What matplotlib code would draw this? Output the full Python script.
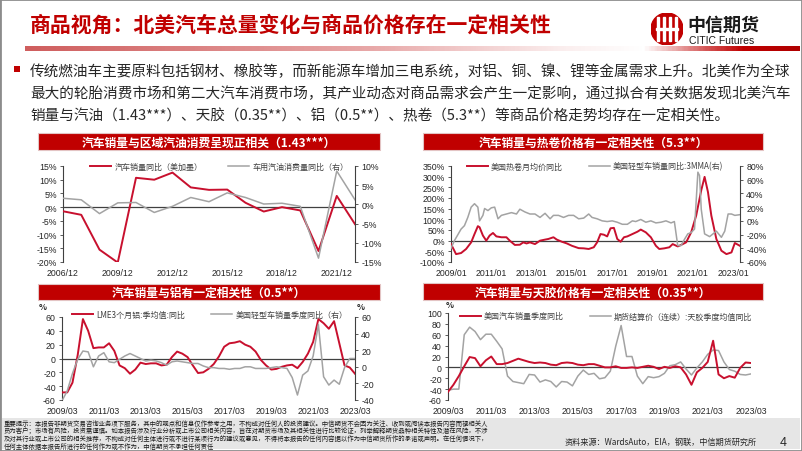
import numpy as np
import matplotlib
matplotlib.use("Agg")
import matplotlib.pyplot as plt
from matplotlib.patches import Rectangle, Circle
from matplotlib.lines import Line2D
from matplotlib.colors import LinearSegmentedColormap

plt.rcParams['font.family'] = ['Noto Sans CJK SC', 'DejaVu Sans']
plt.rcParams['axes.unicode_minus'] = False

W, H = 802, 452
RED = '#C8102E'
GRAY = '#A3A3A3'
DARK = '#404040'
BANNER = '#C00000'
NUM_FONT = ['Liberation Sans', 'DejaVu Sans']

# ---------------- data ----------------
# chart 1: annual, 2006/12 - 2022/12
c1_years = list(range(2006, 2023))
c1_sales = [-1.5, -2.8, -15.5, -20.2, 10.7, 10.0, 12.6, 7.2, 6.3, 6.4, 1.6, -1.6, 0.0, -1.2, -16.0, 4.1, -6.2]
c1_gas = [1.6, 1.2, -2.4, 0.4, 0.5, -2.1, -0.5, 1.8, 0.7, 3.0, 1.8, 0.1, 0.3, -0.5, -14.0, 8.7, 1.2]
c1_ticks = [2006, 2009, 2012, 2015, 2018, 2021]
c1_ticklabels = ['2006/12', '2009/12', '2012/12', '2015/12', '2018/12', '2021/12']
c1_left = [15, 10, 5, 0, -5, -10, -15, -20]
c1_right = [10, 5, 0, -5, -10, -15]

# chart 2: monthly
c2_hrc_month = ['2009-01', '2009-04', '2009-07', '2009-10', '2010-01', '2010-03', '2010-05', '2010-06',
                '2010-08', '2010-10', '2010-12', '2011-02', '2011-04', '2011-07', '2011-10', '2011-12',
                '2012-03', '2012-06', '2012-08', '2012-10', '2012-12', '2013-03', '2013-06', '2013-09',
                '2013-11', '2014-02', '2014-04', '2014-07', '2014-10', '2015-01', '2015-05', '2015-08',
                '2015-11', '2016-02', '2016-04', '2016-06', '2016-08', '2016-10', '2016-12', '2017-02',
                '2017-04', '2017-06', '2017-08', '2017-10', '2018-01', '2018-04', '2018-06', '2018-09',
                '2018-12', '2019-03', '2019-05', '2019-08', '2019-11', '2020-01', '2020-04', '2020-06',
                '2020-09', '2020-12', '2021-03', '2021-06', '2021-08', '2021-10', '2021-12', '2022-03',
                '2022-06', '2022-09', '2022-12', '2023-02', '2023-05']
c2_hrc = [-16, -63, -58, -39, -8, 31, 68, 63,
          24, 0, 24, 36, 20, 16, 16, 0,
          -20, -19, -8, -13, -8, -16, 0, 5,
          8, 16, 5, -5, -13, -24, -35, -36,
          -39, -31, -8, 31, 28, 20, 58, 60,
          8, -5, 16, 20, 31, 42, 52, 39,
          16, -24, -39, -36, -31, -16, -27, -20,
          -8, 39, 118, 236, 299, 228, 118, 8,
          -47, -63, -55, -11, -24]
c2_sales_month = ['2009-01', '2009-03', '2009-07', '2009-09', '2009-11', '2010-01', '2010-03', '2010-05',
                  '2010-06', '2010-08', '2010-09', '2010-11', '2011-01', '2011-03', '2011-05', '2011-07',
                  '2011-10', '2012-01', '2012-04', '2012-06', '2012-09', '2012-12', '2013-03', '2013-06',
                  '2013-09', '2013-12', '2014-02', '2014-05', '2014-08', '2014-11', '2015-02', '2015-05',
                  '2015-08', '2015-11', '2016-01', '2016-04', '2016-07', '2016-10', '2017-01', '2017-04',
                  '2017-07', '2017-10', '2018-01', '2018-03', '2018-06', '2018-09', '2018-12', '2019-03',
                  '2019-06', '2019-09', '2019-12', '2020-02', '2020-04', '2020-06', '2020-08', '2020-10',
                  '2020-12', '2021-02', '2021-04', '2021-05', '2021-06', '2021-08', '2021-11', '2022-01',
                  '2022-03', '2022-06', '2022-08', '2022-10', '2022-12', '2023-02', '2023-05']
c2_sales = [-40, -29, -12, -7, 5, 20, 25, 20,
            0, 8, 18, 15, 19, 20, 3, 8,
            10, 12, 10, 17, 13, 10, 10, 5,
            11, 3, 8, 8, 5, 8, 8, 3,
            4, 10, 5, 3, 0, -1, 0, -2,
            -5, -5, 0, -1, 2, -2, 0, -3,
            -2, 0, -3, -1, -36, -36, -27, -19,
            -17, -12, 71, 66, 17, -19, -23, -19,
            -15, -24, -15, 10, 10, 8, 9]
c2_ticks = ['2009-01', '2011-01', '2013-01', '2015-01', '2017-01', '2019-01', '2021-01', '2023-01']
c2_left = [350, 300, 250, 200, 150, 100, 50, 0, -50, -100]
c2_right = [80, 60, 40, 20, 0, -20, -40, -60]

# charts 3 & 4: quarterly, 2009/03 - 2023/03
quarters = [f'{y}/{m:02d}' for y in range(2009, 2024) for m in (3, 6, 9, 12)][:57]
q_ticklabels = ['2009/03', '2011/03', '2013/03', '2015/03', '2017/03', '2019/03', '2021/03', '2023/03']
c3_alu = [-49, -49, -35, 5, 57, 40, 15, 16, 16, 22,
          11, -10, -14, -22, -16, -6, -8, -7, -7, -10,
          -9, 2, 10, 7, 2, -10, -21, -20, -15, -8,
          3, 17, 22, 23, 25, 20, 17, 10, -2, -10,
          -16, -15, -12, -10, -9, -14, -5, 7, 24, 57,
          51, 43, 54, 22, -10, -13, -22]
c3_sales = [-41, -29, -8, 9, 19, 18, 0, 13, 17, 6,
            5, 9, 13, 16, 13, 10, 7, 8, 7, 5,
            2, 6, 7, 6, 5, 4, 4, 1, -1, -1,
            -2, -2, -3, -2, -2, 0, 0, -2, -2, -2,
            -1, 0, -1, -2, -13, -34, -10, -5, 13, 51,
            -12, -22, -16, -21, -1, 10, 10]
c3_left = [60, 40, 20, 0, -20, -40, -60]
c3_right = [60, 40, 20, 0, -20, -40]

c4_sales = [-45, -32, -16, 2, 19, 17, 2, 13, 20, 6,
            6, 8, 12, 16, 13, 10, 8, 9, 8, 5,
            4, 8, 9, 8, 5, 4, 6, 6, 3, 0,
            0, 2, -1, -1, 0, -1, 1, 3, 1, -3,
            1, -1, 2, 0, -13, -32, -9, -1, 10, 49,
            -13, -20, -16, -19, -1, 9, 8]
c4_rubber = [-42, -40, -40, 60, 74, 66, 51, 61, 61, 48,
             34, -16, -26, -28, -30, -13, -14, -27, -23, -26,
             -36, -26, -27, -34, -16, -5, -13, -11, -21, -19,
             -7, 39, 77, 20, 20, -16, -30, -17, -19, -17,
             -11, 3, 5, 10, -3, -14, -1, 10, 24, 32,
             31, 10, -4, -7, -13, -14, -12]
c4_left = [100, 80, 60, 40, 20, 0, -20, -40, -60]


def to_year(s):
    y, m = s.split('-')
    return int(y) + (int(m) - 1) / 12


# ---------------- helpers ----------------
fig = plt.figure(figsize=(W / 100, H / 100), dpi=100)


def box(x0, y0, x1, y1):
    return [x0 / W, 1 - y1 / H, (x1 - x0) / W, (y1 - y0) / H]


def ftext(x, y, s, **kw):
    fig.text(x / W, 1 - y / H, s, **kw)


def frect(x0, y0, x1, y1, **kw):
    fig.add_artist(Rectangle((x0 / W, 1 - y1 / H), (x1 - x0) / W, (y1 - y0) / H,
                             transform=fig.transFigure, **kw))


def style_left(ax, ylim, yt, ylab, xlim, xt, xlab, xpad=4):
    ax.set_xlim(*xlim)
    ax.set_ylim(*ylim)
    ax.set_yticks(yt)
    ax.set_yticklabels(ylab, fontfamily=NUM_FONT)
    ax.set_xticks(xt)
    ax.set_xticklabels(xlab, fontfamily=NUM_FONT)
    for s in ['top', 'right', 'bottom']:
        ax.spines[s].set_visible(False)
    ax.spines['left'].set_color(DARK)
    ax.spines['left'].set_linewidth(0.8)
    ax.tick_params(axis='y', direction='out', length=2.5, width=0.6, color=DARK,
                   labelsize=6.3, labelcolor='#262626', pad=2)
    ax.tick_params(axis='x', length=0, labelsize=6.3, labelcolor='#262626', pad=xpad)
    ax.axhline(0, color=DARK, lw=0.9, zorder=1)
    ax.patch.set_alpha(0)


def style_right(ax2, ylim, yt, ylab):
    ax2.set_ylim(*ylim)
    ax2.set_yticks(yt)
    ax2.set_yticklabels(ylab, fontfamily=NUM_FONT)
    for s in ['top', 'left', 'bottom']:
        ax2.spines[s].set_visible(False)
    ax2.spines['right'].set_color(DARK)
    ax2.spines['right'].set_linewidth(0.8)
    ax2.tick_params(axis='y', direction='out', length=2.5, width=0.6, color=DARK,
                    labelsize=6.3, labelcolor='#262626', pad=2)


def add_legend(ax, labels, cx, cy):
    handles = [Line2D([], [], color=RED, lw=1.4), Line2D([], [], color=GRAY, lw=1.1)]
    leg = ax.legend(handles, labels, loc='center', bbox_to_anchor=(cx, cy), ncol=2,
                    frameon=False, fontsize=5.8, handlelength=2.6, handletextpad=0.4,
                    columnspacing=3.2, borderaxespad=0)
    for t in leg.get_texts():
        t.set_color(DARK)


def banner(x0, y0, x1, y1, s):
    frect(x0, y0, x1, y1, facecolor=BANNER, edgecolor='#E3C4C4', lw=0.8)
    ftext((x0 + x1) / 2, (y0 + y1) / 2 + 0.5, s, ha='center', va='center', color='white',
          fontsize=8.5, fontweight='bold')


# ---------------- header ----------------
ftext(30, 25, '商品视角：北美汽车总量变化与商品价格存在一定相关性', fontsize=15,
      fontweight='bold', color=BANNER, va='center')

grad_cmap = LinearSegmentedColormap.from_list('bar', [
    (0.0, '#CF5E5E'), (0.45, '#E8A9A9'), (0.70, '#FBEFEF'), (0.80, '#FFFFFF'),
    (0.88, '#D65A5A'), (0.93, '#C00000'), (1.0, '#B00000')])
ax_bar = fig.add_axes(box(25, 47, 800, 52))
ax_bar.imshow(np.linspace(0, 1, 400)[None, :], cmap=grad_cmap, aspect='auto')
ax_bar.set_axis_off()

ax_logo = fig.add_axes(box(651, 14, 683, 46))
ax_logo.set_xlim(-1, 1)
ax_logo.set_ylim(-1, 1)
ax_logo.add_patch(Circle((0, 0), 1, color=BANNER))
for xs in [-0.55, -0.2, 0.2, 0.55]:
    ax_logo.add_patch(Rectangle((xs - 0.06, -0.75), 0.12, 1.5, color='white'))
ax_logo.add_patch(Rectangle((-0.7, -0.06), 1.4, 0.12, color='white'))
ax_logo.set_axis_off()
ftext(687, 25, '中信期货', fontsize=13, fontweight='bold', color='#1A1A1A', va='center')
ftext(689, 41, 'CITIC Futures', fontsize=7.5, color='#1A1A1A', va='center', fontfamily=NUM_FONT)

frect(14, 67, 20, 73, facecolor=BANNER, edgecolor='none')
body = ['传统燃油车主要原料包括钢材、橡胶等，而新能源车增加三电系统，对铝、铜、镍、锂等金属需求上升。北美作为全球',
        '最大的轮胎消费市场和第二大汽车消费市场，其产业动态对商品需求会产生一定影响，通过拟合有关数据发现北美汽车',
        '销量与汽油（1.43***）、天胶（0.35**）、铝（0.5**）、热卷（5.3**）等商品价格走势均存在一定相关性。']
for i, line in enumerate(body):
    ftext(30, 72 + 22 * i, line, fontsize=10.5, color='#262626', va='center')

# ---------------- chart 1 ----------------
banner(38, 134, 380, 151, '汽车销量与区域汽油消费呈现正相关（1.43***）')
ax1 = fig.add_axes(box(63, 167, 355, 263))
style_left(ax1, (-20, 15), c1_left, [f'{v}%' for v in c1_left],
           (c1_years[0], c1_years[-1]), c1_ticks, c1_ticklabels)
ax1.plot(c1_years, c1_sales, color=RED, lw=1.4, zorder=3)
ax1b = ax1.twinx()
style_right(ax1b, (-15, 10), c1_right, [f'{v}%' for v in c1_right])
ax1b.plot(c1_years, c1_gas, color=GRAY, lw=1.1)
add_legend(ax1b, ['汽车销量同比（美加墨）', '车用汽油消费量同比（右）'], 0.536, 1.0)

# ---------------- chart 2 ----------------
banner(423, 134, 763, 151, '汽车销量与热卷价格有一定相关性（5.3**）')
ax2 = fig.add_axes(box(451, 167, 740, 263))
style_left(ax2, (-100, 350), c2_left, [f'{v}%' for v in c2_left],
           (2009.0, 2023.34), [to_year(m) for m in c2_ticks], [m.replace('-', '/') for m in c2_ticks])
ax2.plot([to_year(m) for m in c2_hrc_month], c2_hrc, color=RED, lw=1.4, zorder=3)
ax2b = ax2.twinx()
style_right(ax2b, (-60, 80), c2_right, [f'{v}%' for v in c2_right])
ax2b.plot([to_year(m) for m in c2_sales_month], c2_sales, color=GRAY, lw=1.1)
add_legend(ax2b, ['美国热卷月均价同比', '美国轻型车销量同比:3MMA(右)'], 0.498, 1.0)

# ---------------- chart 3 ----------------
banner(38, 285, 380, 301, '汽车销量与铝有一定相关性（0.5**）')
qx = np.arange(len(quarters))
q_ticks = [quarters.index(q) for q in q_ticklabels]
ax3 = fig.add_axes(box(62, 318, 355, 401))
style_left(ax3, (-60, 60), c3_left, [str(v) for v in c3_left],
           (0, len(quarters) - 1), q_ticks, q_ticklabels, xpad=4)
ax3.plot(qx, c3_alu, color=RED, lw=1.4, zorder=3)
ax3b = ax3.twinx()
style_right(ax3b, (-40, 60), c3_right, [str(v) for v in c3_right])
ax3b.plot(qx, c3_sales, color=GRAY, lw=1.1)
add_legend(ax3b, ['LME3个月铝:季均值:同比', '美国轻型车销量季度同比（右）'], 0.505, 1.03)
ftext(43, 308, '%', fontsize=6, fontweight='bold', color='#262626', va='center', ha='center')
ftext(361, 308, '%', fontsize=6, fontweight='bold', color='#262626', va='center', ha='center')

# ---------------- chart 4 ----------------
banner(423, 284, 763, 301, '汽车销量与天胶价格有一定相关性（0.35**）')
ax4 = fig.add_axes(box(448, 314, 751, 401))
style_left(ax4, (-60, 100), c4_left, [str(v) for v in c4_left],
           (0, len(quarters) - 1), q_ticks, q_ticklabels, xpad=4)
ax4.plot(qx, c4_rubber, color=GRAY, lw=1.1, zorder=2)
ax4.plot(qx, c4_sales, color=RED, lw=1.4, zorder=3)
add_legend(ax4, ['美国汽车销量季度同比', '期货结算价（连续）:天胶季度均值同比'], 0.521, 0.967)
ftext(450, 305, '%', fontsize=6, fontweight='bold', color='#262626', va='center', ha='center')

# ---------------- footer ----------------
frect(2, 419, 800, 450, facecolor='#E6E6E6', edgecolor='none')
notes = ['重要提示：本报告非期货交易咨询业务项下服务，其中的观点和信息仅作参考之用，不构成对任何人的投资建议。中信期货不会因为关注、收到或阅读本报告内容而视相关人',
         '员为客户；市场有风险，投资需谨慎。如本报告涉及行业分析或上市公司相关内容，旨在对期货市场及其相关性进行比较论证，列举解释期货品种相关特性及潜在风险，不涉',
         '及对其行业或上市公司的相关推荐，不构成对任何主体进行或不进行某项行为的建议或意见，不得将本报告的任何内容据以作为中信期货所作的承诺或声明。在任何情况下，',
         '任何主体依据本报告所进行的任何作为或不作为，中信期货不承担任何责任']
for i, line in enumerate(notes):
    ftext(4, 424 + 7.5 * i, line, fontsize=4.6, color='#1A1A1A', va='center')
ftext(757, 442, '资料来源：WardsAuto，EIA，钢联，中信期货研究所', fontsize=5.9,
      color='#262626', va='center', ha='right')
ftext(783, 443, '4', fontsize=9, color='#262626', va='center', ha='center', fontfamily=NUM_FONT)

fig.add_artist(Rectangle((0, 0), 1, 1, transform=fig.transFigure, fill=False,
                         edgecolor='#8C8C8C', lw=2))

fig.savefig('out.png', dpi=100)
